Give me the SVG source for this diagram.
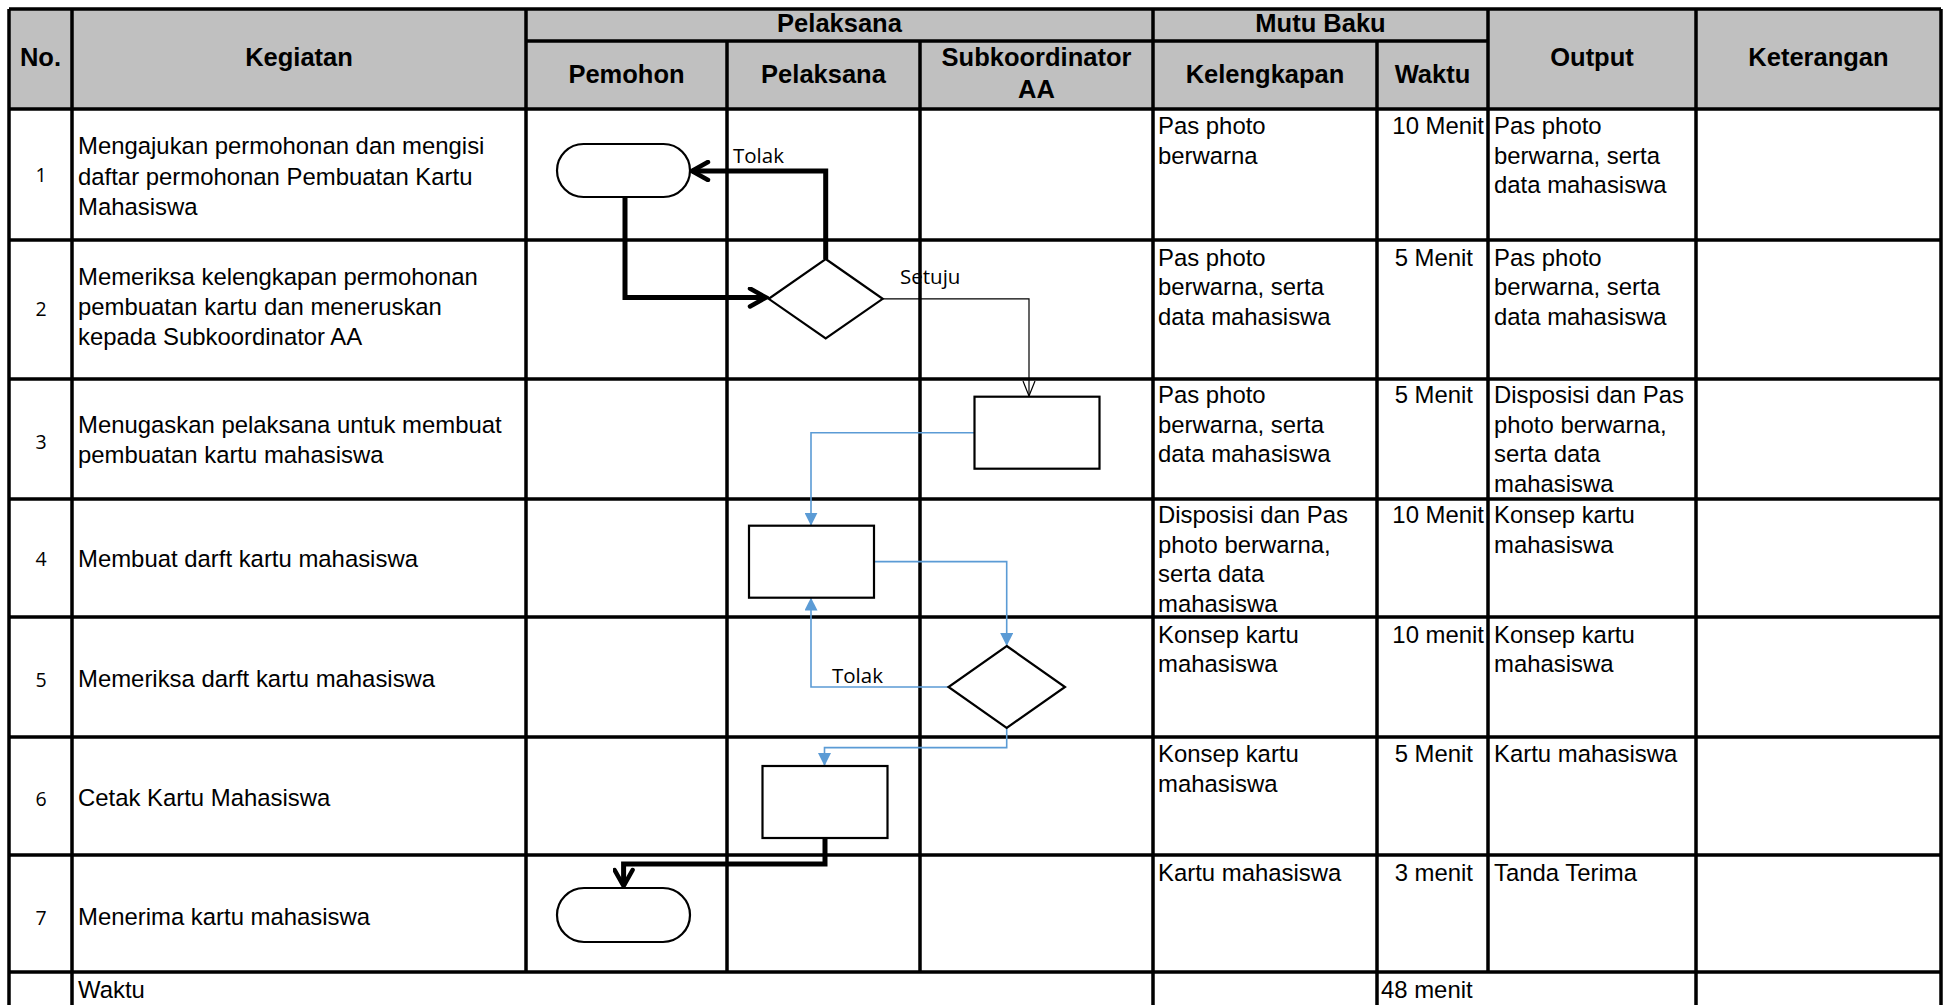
<svg xmlns="http://www.w3.org/2000/svg" width="1944" height="1005" viewBox="0 0 1944 1005">
<style>
.hd{font-family:"Liberation Sans",Arial,sans-serif;font-weight:bold;font-size:25.5px;fill:#000;text-anchor:middle}
.tx{font-family:"Liberation Sans",Arial,sans-serif;font-size:23.9px;fill:#000}
.num{font-family:"Open Sans","Liberation Sans",sans-serif;font-size:19.5px;fill:#000;text-anchor:middle}
.lbl{font-family:"Open Sans","Liberation Sans",sans-serif;font-size:20.5px;fill:#000}
.end{text-anchor:end}
.grid{stroke:#000;stroke-width:3.5;fill:none}
.shape{fill:#fff;stroke:#000;stroke-width:2.2}
.thick{fill:none;stroke:#000;stroke-width:5}
.thin{fill:none;stroke:#000;stroke-width:1.2}
.blue{fill:none;stroke:#5B9BD5;stroke-width:1.6}
</style>
<defs>
<marker id="chev" markerUnits="userSpaceOnUse" viewBox="0 0 22 22" markerWidth="22" markerHeight="22" refX="19" refY="11" orient="auto">
<path d="M3,2 L19,11 L3,20" fill="none" stroke="#000" stroke-width="4.5" stroke-linecap="round" stroke-linejoin="miter"/>
</marker>
<marker id="openv" markerUnits="userSpaceOnUse" viewBox="0 0 16 14" markerWidth="16" markerHeight="14" refX="15" refY="7" orient="auto">
<path d="M0,1 L15,7 L0,13" fill="none" stroke="#000" stroke-width="1.2"/>
</marker>
<marker id="tri" markerUnits="userSpaceOnUse" viewBox="0 0 13 13" markerWidth="13" markerHeight="13" refX="13" refY="6.5" orient="auto">
<path d="M0,0 L13,6.5 L0,13 z" fill="#5B9BD5"/>
</marker>
</defs>
<rect width="1944" height="1005" fill="#fff"/>
<g id="table">
<rect x="9" y="9" width="1932" height="100" fill="#C0C0C0"/>
<path class="grid" d="M9,9 H1941 M526,41 H1488 M9,109 H1941 M9,240 H1941 M9,379 H1941 M9,499 H1941 M9,617 H1941 M9,737 H1941 M9,855 H1941 M9,972 H1941 M9,9 V1005 M72,9 V1005 M526,9 V972 M727,41 V972 M920,41 V972 M1153,9 V1005 M1377,41 V1005 M1488,9 V972 M1696,9 V1005 M1941,9 V1005"/>
<text class="hd" x="40.5" y="66">No.</text>
<text class="hd" x="299" y="66">Kegiatan</text>
<text class="hd" x="839.5" y="32">Pelaksana</text>
<text class="hd" x="626.5" y="83">Pemohon</text>
<text class="hd" x="823.5" y="83">Pelaksana</text>
<text class="hd" x="1036.5" y="66">Subkoordinator</text>
<text class="hd" x="1036.5" y="98">AA</text>
<text class="hd" x="1320.5" y="32">Mutu Baku</text>
<text class="hd" x="1265" y="83">Kelengkapan</text>
<text class="hd" x="1432.5" y="83">Waktu</text>
<text class="hd" x="1592" y="66">Output</text>
<text class="hd" x="1818.5" y="66">Keterangan</text>
</g>
<g id="row1">
<text class="num" x="41" y="182">1</text>
<text class="tx" x="78" y="154">Mengajukan permohonan dan mengisi</text>
<text class="tx" x="78" y="184.5">daftar permohonan Pembuatan Kartu</text>
<text class="tx" x="78" y="215">Mahasiswa</text>
<text class="tx" x="1158" y="134">Pas photo</text>
<text class="tx" x="1158" y="163.7">berwarna</text>
<text class="tx end" x="1484" y="134">10 Menit</text>
<text class="tx" x="1494" y="134">Pas photo</text>
<text class="tx" x="1494" y="163.7">berwarna, serta</text>
<text class="tx" x="1494" y="193.4">data mahasiswa</text>
</g>
<g id="row2">
<text class="num" x="41" y="316">2</text>
<text class="tx" x="78" y="285">Memeriksa kelengkapan permohonan</text>
<text class="tx" x="78" y="315">pembuatan kartu dan meneruskan</text>
<text class="tx" x="78" y="345">kepada Subkoordinator AA</text>
<text class="tx" x="1158" y="265.5">Pas photo</text>
<text class="tx" x="1158" y="295.2">berwarna, serta</text>
<text class="tx" x="1158" y="324.9">data mahasiswa</text>
<text class="tx end" x="1473" y="265.5">5 Menit</text>
<text class="tx" x="1494" y="265.5">Pas photo</text>
<text class="tx" x="1494" y="295.2">berwarna, serta</text>
<text class="tx" x="1494" y="324.9">data mahasiswa</text>
</g>
<g id="row3">
<text class="num" x="41" y="449">3</text>
<text class="tx" x="78" y="433">Menugaskan pelaksana untuk membuat</text>
<text class="tx" x="78" y="463">pembuatan kartu mahasiswa</text>
<text class="tx" x="1158" y="403">Pas photo</text>
<text class="tx" x="1158" y="432.7">berwarna, serta</text>
<text class="tx" x="1158" y="462.4">data mahasiswa</text>
<text class="tx end" x="1473" y="403">5 Menit</text>
<text class="tx" x="1494" y="403">Disposisi dan Pas</text>
<text class="tx" x="1494" y="432.7">photo berwarna,</text>
<text class="tx" x="1494" y="462.4">serta data</text>
<text class="tx" x="1494" y="492.1">mahasiswa</text>
</g>
<g id="row4">
<text class="num" x="41" y="566">4</text>
<text class="tx" x="78" y="567">Membuat darft kartu mahasiswa</text>
<text class="tx" x="1158" y="523">Disposisi dan Pas</text>
<text class="tx" x="1158" y="552.7">photo berwarna,</text>
<text class="tx" x="1158" y="582.4">serta data</text>
<text class="tx" x="1158" y="612.1">mahasiswa</text>
<text class="tx end" x="1484" y="523">10 Menit</text>
<text class="tx" x="1494" y="523">Konsep kartu</text>
<text class="tx" x="1494" y="552.7">mahasiswa</text>
</g>
<g id="row5">
<text class="num" x="41" y="687">5</text>
<text class="tx" x="78" y="687">Memeriksa darft kartu mahasiswa</text>
<text class="tx" x="1158" y="642.5">Konsep kartu</text>
<text class="tx" x="1158" y="672.2">mahasiswa</text>
<text class="tx end" x="1484" y="642.5">10 menit</text>
<text class="tx" x="1494" y="642.5">Konsep kartu</text>
<text class="tx" x="1494" y="672.2">mahasiswa</text>
</g>
<g id="row6">
<text class="num" x="41" y="806">6</text>
<text class="tx" x="78" y="806">Cetak Kartu Mahasiswa</text>
<text class="tx" x="1158" y="762">Konsep kartu</text>
<text class="tx" x="1158" y="791.7">mahasiswa</text>
<text class="tx end" x="1473" y="762">5 Menit</text>
<text class="tx" x="1494" y="762">Kartu mahasiswa</text>
</g>
<g id="row7">
<text class="num" x="41" y="925">7</text>
<text class="tx" x="78" y="925">Menerima kartu mahasiswa</text>
<text class="tx" x="1158" y="881">Kartu mahasiswa</text>
<text class="tx end" x="1473" y="881">3 menit</text>
<text class="tx" x="1494" y="881">Tanda Terima</text>
</g>
<g id="row8">
<text class="tx" x="78" y="998">Waktu</text>
<text class="tx" x="1381" y="998">48 menit</text>
</g>
<g id="connectors">
<path class="thick" d="M625,197 V297.5 H766" marker-end="url(#chev)"/>
<path class="thick" d="M825.7,259 V171 H692" marker-end="url(#chev)"/>
<path class="thin" d="M882.7,298.8 H1029 V396" marker-end="url(#openv)"/>
<path class="blue" d="M974.5,432.7 H811 V525.7" marker-end="url(#tri)"/>
<path class="blue" d="M874,561.6 H1006.7 V646" marker-end="url(#tri)"/>
<path class="blue" d="M948.5,687 H811 V597.6" marker-end="url(#tri)"/>
<path class="blue" d="M1006.7,727.8 V747.6 H824.5 V766" marker-end="url(#tri)"/>
<path class="thick" d="M825,838 V864 H623.6 V886" marker-end="url(#chev)"/>
<text class="lbl" x="733" y="163">Tolak</text>
<text class="lbl" x="900" y="284">Setuju</text>
<text class="lbl" x="832" y="683">Tolak</text>
</g>
<g id="n1"><rect class="shape" x="557" y="144" width="133" height="53" rx="26.5"/></g>
<g id="n2"><path class="shape" d="M825.7,259 L882.7,298.8 L825.7,338.5 L768.7,298.8 Z"/></g>
<g id="n3"><rect class="shape" x="974.5" y="396.7" width="125" height="72"/></g>
<g id="n4"><rect class="shape" x="749" y="525.7" width="125" height="72"/></g>
<g id="n5"><path class="shape" d="M1006.7,646 L1065,687 L1006.7,727.8 L948.5,687 Z"/></g>
<g id="n6"><rect class="shape" x="762.5" y="766" width="125" height="72"/></g>
<g id="n7"><rect class="shape" x="557" y="888" width="133" height="54" rx="27"/></g>
</svg>
